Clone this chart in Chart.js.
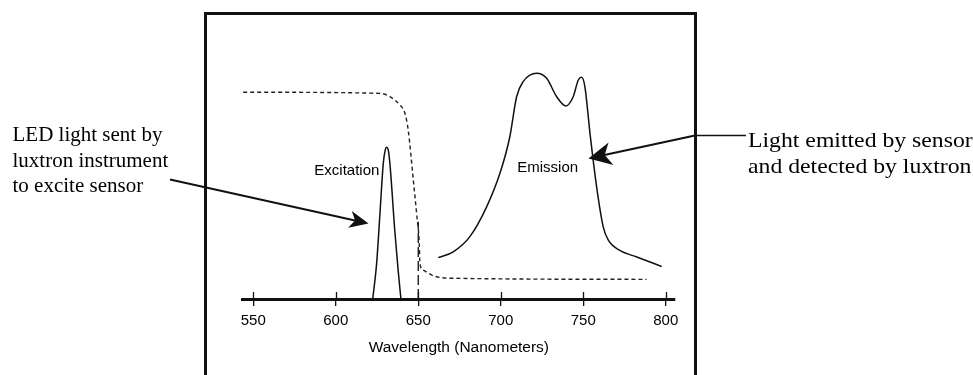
<!DOCTYPE html>
<html>
<head>
<meta charset="utf-8">
<script src="https://cdn.jsdelivr.net/npm/chart.js@4.4.1/dist/chart.umd.min.js"></script>
<style>
  html, body { margin: 0; padding: 0; background: #fff; }
  #chart { display: block; }
</style>
</head>
<body>
<canvas id="chart" width="973" height="375"></canvas>
<script>
// tick labels on the wavelength axis (nm)
const xTicks = [550, 600, 650, 700, 750, 800];

// filter transmission (dashed curve)
const filterNm  = [543.9, 626.8, 632.8, 638.9, 641.9, 643.9, 647.0, 649.0, 650.6, 651.0, 653.0, 659.1, 669.2, 788.4];
const filterVal = [91.5, 91.0, 89.5, 85.8, 82.2, 74.8, 52.7, 37.9, 24.6, 15.8, 12.8, 10.3, 9.2, 8.7];

// LED excitation peak
const exciteNm  = [622.4, 624.8, 626.8, 628.8, 630.0, 630.8, 631.8, 632.8, 635.8, 637.9, 639.5];
const exciteVal = [0, 16, 38, 60, 66, 67.1, 66, 60, 30, 12, 0];

// sensor emission
const emitNm  = [662.1, 671.2, 681.3, 691.5, 699.5, 705.5, 709.6, 713.6, 721.8, 727.8, 733.9, 739.5, 743.9, 747.0, 749.0, 751.0, 754.1, 758.1, 762.1, 765.2, 772.2, 782.4, 797.5];
const emitVal = [18.3, 20.9, 27.6, 40.9, 55.6, 71.8, 89.5, 96.2, 99.9, 97.7, 89.5, 85.4, 89.5, 96.9, 98.1, 93.9, 73.2, 49.6, 31.9, 26.0, 21.5, 18.6, 14.4];

// cut-off marker at 650 nm
const cutNm  = [650, 650];
const cutVal = [0, 34.2];

const SANS = "'Liberation Sans', Arial, sans-serif";
const SERIF = "'Liberation Serif', 'Times New Roman', serif";

function pts(xs, ys) {
    return xs.map((x, i) => ({ x: x, y: ys[i] }));
}

function arrow(ctx, x0, y0, x1, y1, len, half, lw) {
    const dx = x1 - x0, dy = y1 - y0;
    const d = Math.hypot(dx, dy);
    const ux = dx / d, uy = dy / d;
    const nx = -uy, ny = ux;
    ctx.lineWidth = lw;
    ctx.beginPath();
    ctx.moveTo(x0, y0);
    ctx.lineTo(x1 - ux * len * 0.6, y1 - uy * len * 0.6);
    ctx.stroke();
    ctx.beginPath();
    ctx.moveTo(x1, y1);
    ctx.lineTo(x1 - ux * len + nx * half, y1 - uy * len + ny * half);
    ctx.lineTo(x1 - ux * len * 0.72, y1 - uy * len * 0.72);
    ctx.lineTo(x1 - ux * len - nx * half, y1 - uy * len - ny * half);
    ctx.closePath();
    ctx.fill();
}

const decorations = {
    id: 'decorations',
    afterDraw(chart) {
        const ctx = chart.ctx;
        const xs = chart.scales.x, ys = chart.scales.y;
        const axisY = chart.chartArea.bottom;
        ctx.save();
        ctx.strokeStyle = '#111';
        ctx.fillStyle = '#111';

        // frame around the plot
        ctx.lineWidth = 3;
        ctx.beginPath();
        ctx.moveTo(205.5, 380);
        ctx.lineTo(205.5, 13.5);
        ctx.lineTo(695.5, 13.5);
        ctx.lineTo(695.5, 380);
        ctx.stroke();

        // upper half of the tick marks
        ctx.lineWidth = 1.3;
        xTicks.forEach(v => {
            const px = Math.round(xs.getPixelForValue(v)) + 0.5;
            ctx.beginPath();
            ctx.moveTo(px, axisY - 7);
            ctx.lineTo(px, axisY);
            ctx.stroke();
        });

        // curve labels
        ctx.fillStyle = '#000';
        ctx.font = '15px ' + SANS;
        ctx.textBaseline = 'alphabetic';
        ctx.textAlign = 'right';
        ctx.fillText('Excitation', xs.getPixelForValue(626.4), ys.getPixelForValue(54.9));
        ctx.textAlign = 'left';
        ctx.fillText('Emission', xs.getPixelForValue(710), ys.getPixelForValue(56.3));

        // callout arrows
        ctx.fillStyle = '#111';
        arrow(ctx, 170, 179.5, 368.5, 223.5, 19, 8.5, 2);
        arrow(ctx, 695, 135.5, 588.5, 158.5, 23, 11.5, 2);
        ctx.lineWidth = 1.5;
        ctx.beginPath();
        ctx.moveTo(695, 135.5);
        ctx.lineTo(746, 135.5);
        ctx.stroke();

        // callout texts
        ctx.fillStyle = '#000';
        ctx.font = '21px ' + SERIF;
        ctx.textAlign = 'left';
        ctx.fillText('LED light sent by', 12.5, 141);
        ctx.fillText('luxtron instrument', 12.5, 166.5);
        ctx.fillText('to excite sensor', 12.5, 191.5);
        // right-hand text is set a little wider in the original
        ctx.translate(748, 0);
        ctx.scale(1.13, 1);
        ctx.fillText('Light emitted by sensor', 0, 146.5);
        ctx.fillText('and detected by luxtron', 0, 173);
        ctx.restore();
    }
};

const lineStyle = {
    showLine: true,
    pointRadius: 0,
    fill: false,
    borderColor: '#111',
    borderWidth: 1.5,
    cubicInterpolationMode: 'monotone',
    clip: false
};

new Chart(document.getElementById('chart'), {
    type: 'scatter',
    data: {
        datasets: [
            Object.assign({}, lineStyle, { label: 'Filter', data: pts(filterNm, filterVal), borderDash: [4, 3], borderWidth: 1.4, borderColor: '#222' }),
            Object.assign({}, lineStyle, { label: 'Excitation', data: pts(exciteNm, exciteVal) }),
            Object.assign({}, lineStyle, { label: 'Emission', data: pts(emitNm, emitVal) }),
            Object.assign({}, lineStyle, { label: 'Cut-off', data: pts(cutNm, cutVal), borderDash: [10, 4], borderWidth: 1.3 })
        ]
    },
    options: {
        responsive: false,
        animation: false,
        devicePixelRatio: 1,
        layout: { padding: { left: 242.7, right: 298, top: 16.5, bottom: 0 } },
        plugins: { legend: { display: false }, tooltip: { enabled: false } },
        scales: {
            x: {
                type: 'linear',
                min: 543.6,
                max: 805.6,
                afterBuildTicks: s => { s.ticks = xTicks.map(v => ({ value: v })); },
                afterFit: s => { s.height = 76; },
                border: { display: true, color: '#111', width: 3 },
                grid: { drawOnChartArea: false, drawTicks: true, tickLength: 7, color: '#111', lineWidth: 1.3 },
                ticks: { color: '#000', padding: 6, maxRotation: 0, font: { family: SANS, size: 15 } },
                title: {
                    display: true,
                    text: 'Wavelength (Nanometers)',
                    color: '#000',
                    font: { family: SANS, size: 15.5 },
                    padding: { top: 0, bottom: 18 }
                }
            },
            y: { display: false, min: 0, max: 125 }
        }
    },
    plugins: [decorations]
});
</script>
</body>
</html>
